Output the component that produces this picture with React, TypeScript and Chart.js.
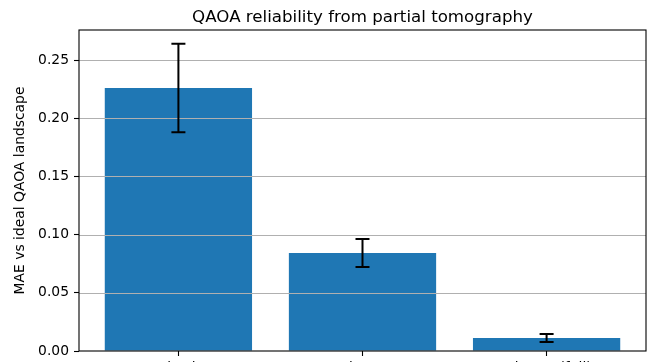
import { useEffect, useRef } from "react";
import { Chart, registerables } from "chart.js";

Chart.register(...registerables);

// Mean absolute error of the reconstructed QAOA landscape per tomography setting
const categories = ["1 basis", "2 bases", "3 bases (full)"];
const maeValues = [0.226, 0.0842, 0.0112];
const maeErrors = [0.038, 0.012, 0.0035];
const yTicks = [0, 0.05, 0.1, 0.15, 0.2, 0.25];
const chartTitle = "QAOA reliability from partial tomography";

const FONT = "'DejaVu Sans', sans-serif";
const BAR_COLOR = "#1f77b4";

// Grid lines sit above the bars; error bars, the axes frame and the
// title (centred over the plot area) go on top.
const overlayPlugin = {
  id: "overlay",
  afterDatasetsDraw(chart: any) {
    const { ctx, chartArea: a, scales } = chart;
    const xs = scales.x;
    const ys = scales.y;

    ctx.save();
    ctx.beginPath();
    ctx.rect(a.left, a.top, a.right - a.left, a.bottom - a.top);
    ctx.clip();
    ctx.strokeStyle = "#b0b0b0";
    ctx.lineWidth = 1.1;
    yTicks.forEach((v) => {
      const py = Math.round(ys.getPixelForValue(v)) + 0.5;
      ctx.beginPath();
      ctx.moveTo(a.left, py);
      ctx.lineTo(a.right, py);
      ctx.stroke();
    });
    ctx.restore();

    ctx.save();
    ctx.strokeStyle = "#000";
    ctx.lineWidth = 2;
    const cap = 7;
    maeValues.forEach((v, i) => {
      const px = xs.getPixelForValue(i);
      const top = ys.getPixelForValue(v + maeErrors[i]);
      const bot = ys.getPixelForValue(v - maeErrors[i]);
      ctx.beginPath();
      ctx.moveTo(px, top);
      ctx.lineTo(px, bot);
      ctx.moveTo(px - cap, top);
      ctx.lineTo(px + cap, top);
      ctx.moveTo(px - cap, bot);
      ctx.lineTo(px + cap, bot);
      ctx.stroke();
    });

    ctx.strokeStyle = "#000";
    ctx.lineWidth = 1.1;
    ctx.strokeRect(a.left, a.top, a.right - a.left, a.bottom - a.top);

    ctx.fillStyle = "#000";
    ctx.font = `16.67px ${FONT}`;
    ctx.textAlign = "center";
    ctx.textBaseline = "alphabetic";
    ctx.fillText(chartTitle, (a.left + a.right) / 2, a.top - 8.5);
    ctx.restore();
  },
};

export default function App() {
  const canvasRef = useRef<HTMLCanvasElement | null>(null);

  useEffect(() => {
    const canvas = canvasRef.current;
    if (!canvas) return;

    const chart = new Chart(canvas, {
      type: "bar",
      data: {
        datasets: [
          {
            label: "MAE",
            data: maeValues.map((v, i) => ({ x: i, y: v })),
            backgroundColor: BAR_COLOR,
            borderWidth: 0,
            barPercentage: 0.8,
            categoryPercentage: 1,
          },
        ],
      },
      options: {
        responsive: false,
        animation: false,
        devicePixelRatio: 1,
        layout: { padding: { left: 0, right: 16, top: 30, bottom: 0 } },
        plugins: {
          legend: { display: false },
          tooltip: { enabled: false },
          title: { display: false },
        },
        scales: {
          x: {
            type: "linear",
            min: -0.54,
            max: 2.54,
            offset: false,
            afterBuildTicks: (scale: any) => {
              scale.ticks = categories.map((_, i) => ({ value: i }));
            },
            afterFit: (scale: any) => {
              scale.height = 49;
            },
            ticks: {
              color: "#000",
              font: { family: FONT, size: 13.89 },
              padding: 4.5,
              maxRotation: 0,
              minRotation: 0,
              autoSkip: false,
              callback: (v: any) => categories[Number(v)] ?? "",
            },
            grid: {
              offset: false,
              drawOnChartArea: false,
              drawTicks: true,
              tickLength: 5,
              tickColor: "#000",
              tickWidth: 1.1,
            },
            border: { display: false },
          },
          y: {
            min: 0,
            max: 0.2758,
            afterBuildTicks: (scale: any) => {
              scale.ticks = yTicks.map((v) => ({ value: v }));
            },
            afterFit: (scale: any) => {
              scale.width = 79;
            },
            ticks: {
              color: "#000",
              font: { family: FONT, size: 13.89 },
              padding: 5,
              callback: (v: any) => Number(v).toFixed(2),
            },
            grid: {
              drawOnChartArea: false,
              drawTicks: true,
              tickLength: 5,
              tickColor: "#000",
              tickWidth: 1.1,
            },
            border: { display: false },
            title: {
              display: true,
              text: "MAE vs ideal QAOA landscape",
              color: "#000",
              font: { family: FONT, size: 13.89 },
              padding: { top: 12, bottom: 0 },
            },
          },
        },
      },
      plugins: [overlayPlugin],
    });

    return () => chart.destroy();
  }, []);

  return (
    <div
      style={{
        position: "fixed",
        left: 0,
        top: 0,
        width: 662,
        height: 362,
        overflow: "hidden",
        background: "#fff",
      }}
    >
      <canvas
        ref={canvasRef}
        width={662}
        height={400}
        style={{ display: "block", width: 662, height: 400 }}
      />
    </div>
  );
}
